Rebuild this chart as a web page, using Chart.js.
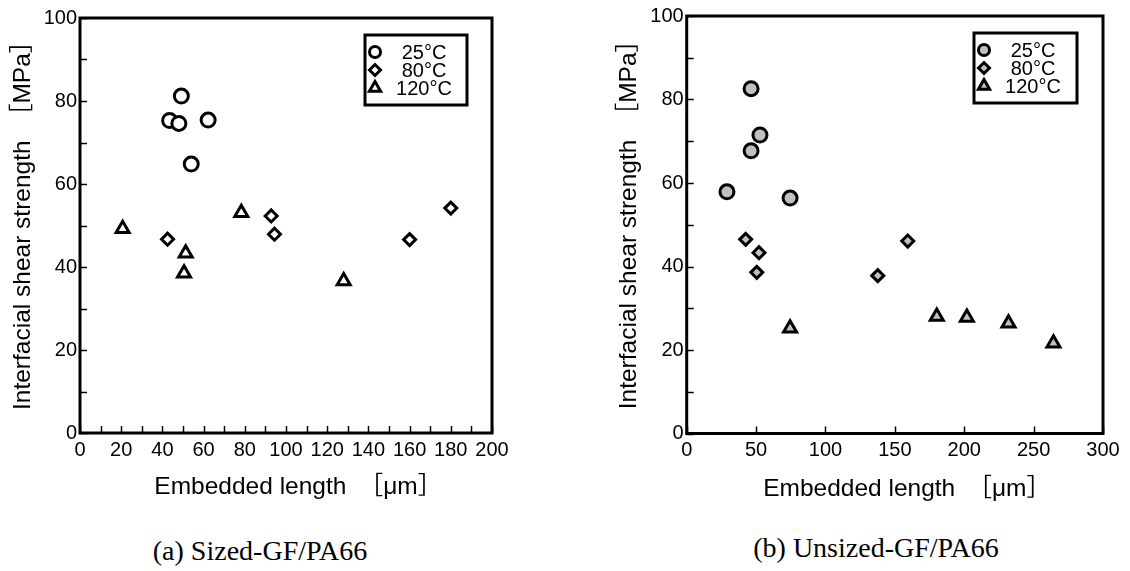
<!DOCTYPE html>
<html>
<head>
<meta charset="utf-8">
<script src="https://cdn.jsdelivr.net/npm/chart.js@4/dist/chart.umd.min.js"></script>
<style>
  body { margin: 0; background: #fff; }
  #wrap { position: relative; width: 1130px; height: 571px; overflow: hidden; }
  canvas { position: absolute; top: 0; }
  #sized { left: 0; }
  #unsized { left: 590px; }
  .caption {
    position: absolute;
    font-family: "Liberation Serif", "Times New Roman", serif;
    font-size: 28px;
    color: #000;
    transform: translate(-50%, -50%);
    white-space: nowrap;
  }
</style>
</head>
<body>
<div id="wrap">
  <canvas id="sized" width="520" height="520"></canvas>
  <canvas id="unsized" width="540" height="520"></canvas>
  <div class="caption" style="left:260px; top:551px;">(a) Sized-GF/PA66</div>
  <div class="caption" style="left:876px; top:548px;">(b) Unsized-GF/PA66</div>
</div>
<script>
// temperature series shared by both panels
const temps = ["25°C", "80°C", "120°C"];
const markers = ["circle", "rectRot", "triangle"];

// (a) sized fibre: embedded length [um] / IFSS [MPa]
const sized25x = [43.5, 48, 49.2, 54, 62.2];
const sized25y = [75.3, 74.6, 81.2, 64.8, 75.4];
const sized80x = [42.5, 92.8, 94.4, 160, 180];
const sized80y = [46.7, 52.3, 47.9, 46.6, 54.2];
const sized120x = [20.7, 50.5, 51.3, 78.3, 128];
const sized120y = [49.2, 38.5, 43.3, 53.1, 36.6];

// (b) unsized fibre
const unsized25x = [29, 46.4, 46.4, 52.8, 74.5];
const unsized25y = [57.9, 67.7, 82.6, 71.5, 56.4];
const unsized80x = [42.5, 50.5, 52.1, 137.7, 159.3];
const unsized80y = [46.5, 38.6, 43.3, 37.8, 46.1];
const unsized120x = [74.5, 180.2, 201.9, 231.9, 264.3];
const unsized120y = [25.2, 28.0, 27.8, 26.4, 21.6];

// leading space balances the empty side of the closing full-width bracket
const yTitle = "\u2002Interfacial shear strength\u3000［MPa］";
const xTitle = "\u3000Embedded length\u3000［μm］";

Chart.defaults.font.family = '"Liberation Sans", Arial, "Noto Sans CJK JP", sans-serif';
Chart.defaults.color = "#000";

const toPoints = (xs, ys) => xs.map((v, i) => ({ x: v, y: ys[i] }));

// frame around the plot area plus inward tick marks
const frameTicks = {
  id: "frameTicks",
  beforeDatasetsDraw(chart) {
    const { ctx, chartArea: a, scales: { x, y } } = chart;
    ctx.save();
    ctx.strokeStyle = "#000";
    ctx.lineWidth = 1.5;
    ctx.beginPath();
    x.ticks.forEach(t => {
      const px = Math.round(x.getPixelForValue(t.value)) + 0.5;
      ctx.moveTo(px, a.bottom);
      ctx.lineTo(px, a.bottom - 7);
    });
    y.ticks.forEach(t => {
      const py = Math.round(y.getPixelForValue(t.value)) + 0.5;
      ctx.moveTo(a.left, py);
      ctx.lineTo(a.left + 7, py);
    });
    ctx.stroke();
    ctx.lineWidth = 3;
    ctx.strokeRect(a.left, a.top, a.width, a.height);
    ctx.restore();
  }
};

// boxed legend in the upper right corner of the plot
const boxLegend = {
  id: "boxLegend",
  afterDraw(chart, args, opts) {
    const { ctx, chartArea: a } = chart;
    const left = a.right - opts.right - opts.width;
    const top = a.top + opts.top;
    ctx.save();
    ctx.fillStyle = "#fff";
    ctx.fillRect(left, top, opts.width, opts.height);
    ctx.lineWidth = 3;
    ctx.strokeStyle = "#000";
    ctx.strokeRect(left, top, opts.width, opts.height);
    ctx.font = '20px "Liberation Sans", Arial, sans-serif';
    ctx.textAlign = "center";
    ctx.textBaseline = "middle";
    chart.data.datasets.forEach((ds, i) => {
      const cy = top + 17 + i * 18;
      ctx.fillStyle = ds.backgroundColor;
      ctx.strokeStyle = "#000";
      ctx.lineWidth = 3;
      Chart.helpers.drawPoint(ctx, { pointStyle: ds.pointStyle, radius: ds.pointStyle === "triangle" ? 6.5 : 5.5, borderWidth: 3, rotation: 0 }, left + 10, cy);
      ctx.fillStyle = "#000";
      ctx.fillText(ds.label, left + 59, cy + 1);
    });
    ctx.restore();
  }
};

function makeChart(id, series, fill, xMax, xStep, xLabelStep, geo) {
  const datasets = series.map((s, i) => ({
    label: temps[i],
    data: toPoints(s[0], s[1]),
    pointStyle: markers[i],
    pointRadius: markers[i] === "triangle" ? 7.5 : (markers[i] === "rectRot" ? 6 : 7),
    pointHoverRadius: markers[i] === "triangle" ? 7.5 : 7,
    borderWidth: 3,
    borderColor: "#000",
    backgroundColor: fill
  }));

  return new Chart(document.getElementById(id), {
    type: "scatter",
    data: { datasets },
    options: {
      responsive: false,
      animation: false,
      layout: { padding: { left: 0, top: geo.top, right: geo.right, bottom: 0 } },
      plugins: {
        legend: { display: false },
        tooltip: { enabled: false },
        boxLegend: geo.legend
      },
      scales: {
        x: {
          type: "linear",
          min: 0,
          max: xMax,
          grid: { display: false, drawTicks: false },
          border: { display: false },
          ticks: {
            stepSize: xStep,
            autoSkip: false,
            maxRotation: 0,
            padding: 5,
            font: { size: 20 },
            callback: v => (v % xLabelStep === 0 ? v : "")
          },
          title: {
            display: true,
            text: xTitle,
            font: { size: 24.5 },
            padding: { top: 0, bottom: geo.xTitlePad }
          },
          afterFit: s => { s.height = geo.xAxisH; }
        },
        y: {
          type: "linear",
          min: 0,
          max: 100,
          grid: { display: false, drawTicks: false },
          border: { display: false },
          ticks: {
            stepSize: 10,
            autoSkip: false,
            padding: 3,
            font: { size: 20 },
            callback: v => (v % 20 === 0 ? v : "")
          },
          title: {
            display: true,
            text: yTitle,
            font: { size: 24.5 },
            padding: { top: geo.yTitlePad, bottom: 0 }
          },
          afterFit: s => { s.width = geo.yAxisW; }
        }
      }
    },
    plugins: [frameTicks, boxLegend]
  });
}

makeChart("sized",
  [[sized25x, sized25y], [sized80x, sized80y], [sized120x, sized120y]],
  "#fff", 200, 10, 20,
  { top: 18, right: 28, xAxisH: 87, yAxisW: 80, xTitlePad: 18, yTitlePad: 8.5,
    legend: { right: 25, top: 17, width: 102, height: 70 } });

makeChart("unsized",
  [[unsized25x, unsized25y], [unsized80x, unsized80y], [unsized120x, unsized120y]],
  "#c0c0c0", 300, 50, 50,
  { top: 16, right: 27, xAxisH: 86.5, yAxisW: 96.7, xTitlePad: 16.5, yTitlePad: 25,
    legend: { right: 26, top: 17, width: 103, height: 70 } });
</script>
</body>
</html>
